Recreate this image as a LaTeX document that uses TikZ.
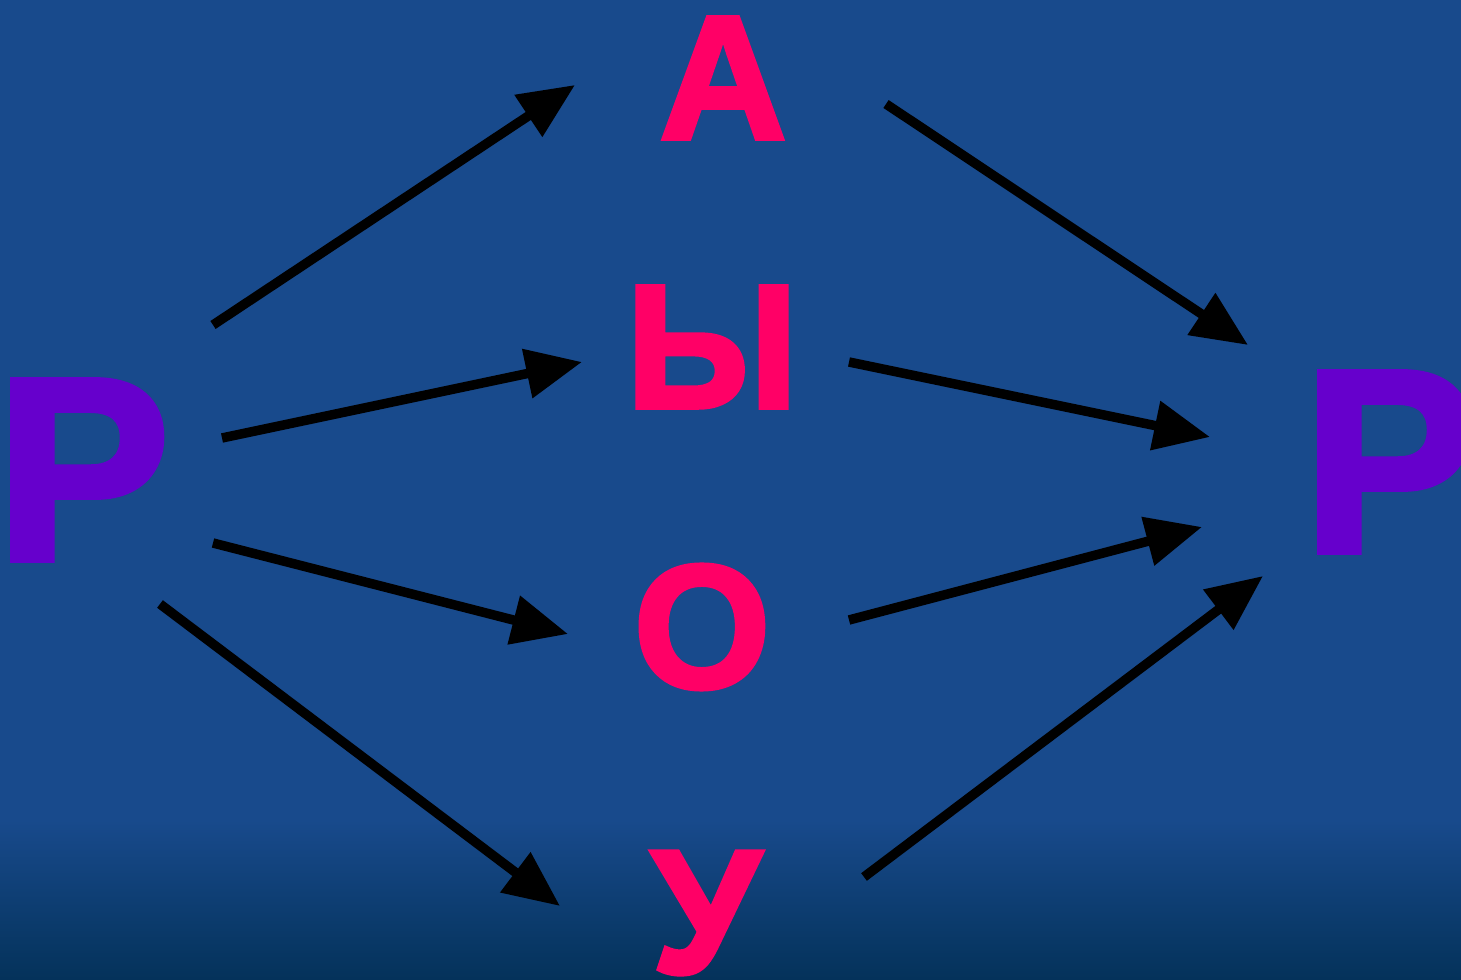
\documentclass[tikz,border=0pt]{standalone}
\usepackage{fontspec}
\newfontfamily\letterfont[FakeBold=2.6]{Liberation Sans Bold}
\usetikzlibrary{arrows.meta}
\definecolor{bgtop}{HTML}{184A8C}
\definecolor{bgbot}{HTML}{04325A}
\definecolor{purp}{HTML}{6600CC}
\definecolor{pink}{HTML}{FF0066}
\tikzset{
  vowel/.style={inner sep=0pt, text=pink, font=\letterfont\fontsize{50}{50}\selectfont},
  cons/.style={inner sep=0pt, text=purp, font=\letterfont\fontsize{74}{74}\selectfont},
  arr/.style={line width=2.7pt, draw=black, -{Triangle[length=0.56cm,width=0.48cm]}}
}
\begin{document}
\begin{tikzpicture}[x=0.01cm,y=-0.01cm]
\useasboundingbox (0,0) rectangle (1461,980);
\fill[bgtop] (0,0) rectangle (1461,980);
\shade[top color=bgtop, bottom color=bgbot] (0,820) rectangle (1461,980);
% letters
\node[cons] (P1) at (83,470) {Р};
\node[cons] (P2) at (1390,462) {Р};
\node[vowel] (A) at (723,78) {А};
\node[vowel] (Y) at (712,347) {Ы};
\node[vowel] (O) at (702,627) {О};
\node[vowel] (U) at (706,913) {У};
% arrow end points
\coordinate (p1a) at (213,325);
\coordinate (p1y) at (222,438);
\coordinate (p1o) at (213,543);
\coordinate (p1u) at (160,604);
\coordinate (ain) at (575,85);
\coordinate (yin) at (582,362);
\coordinate (oin) at (568,634);
\coordinate (uin) at (560,906);
\coordinate (aout) at (886,104);
\coordinate (yout) at (849,362);
\coordinate (oout) at (849,620);
\coordinate (uout) at (864,877);
\coordinate (p2a) at (1248,345);
\coordinate (p2y) at (1210,437);
\coordinate (p2o) at (1202,527);
\coordinate (p2u) at (1263,576);
\draw[arr] (p1a) -- (ain);
\draw[arr] (p1y) -- (yin);
\draw[arr] (p1o) -- (oin);
\draw[arr] (p1u) -- (uin);
\draw[arr] (aout) -- (p2a);
\draw[arr] (yout) -- (p2y);
\draw[arr] (oout) -- (p2o);
\draw[arr] (uout) -- (p2u);
\end{tikzpicture}
\end{document}
